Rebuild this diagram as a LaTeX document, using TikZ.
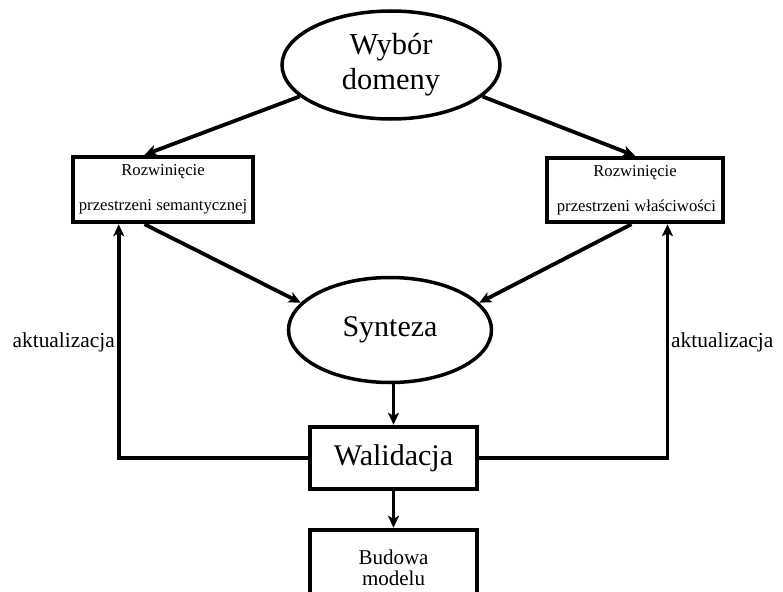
\documentclass[tikz,border=0pt]{standalone}
\usepackage{fontspec}
\setmainfont{Liberation Serif}
\usetikzlibrary{shapes.geometric,arrows.meta,calc}
\tikzset{
  ell/.style={ellipse, draw, line width=3.5pt, inner sep=0pt},
  boxa/.style={rectangle, draw, line width=4.5pt, inner sep=0pt, align=center},
  arr/.style={line width=3.8pt, -{Stealth[length=12pt,width=11pt,inset=3pt]}},
  lbl/.style={inner sep=0pt, font=\fontsize{21.4}{24}\selectfont},
}
\begin{document}
\begin{tikzpicture}[x=1pt,y=-1pt]
\useasboundingbox (0,0) rectangle (783,591);
\node[ell, minimum width=218pt, minimum height=108pt,
      font=\fontsize{30.5}{35}\selectfont, align=center] (wyb) at (391,65) {Wybór\\domeny};
\node[boxa, minimum width=180pt, minimum height=65pt,
      font=\fontsize{16.7}{35}\selectfont] (lb) at (163,189.5) {Rozwinięcie\\przestrzeni semantycznej};
\node[boxa, minimum width=176pt, minimum height=64pt,
      font=\fontsize{16.7}{35}\selectfont] (rb) at (635,190) {Rozwinięcie\\\,przestrzeni właściwości};
\node[ell, minimum width=203pt, minimum height=105pt,
      font=\fontsize{30}{35}\selectfont] (syn) at (390,330) {Synteza};
\node[boxa, minimum width=167pt, minimum height=62pt,
      font=\fontsize{30}{35}\selectfont] (wal) at (393.5,458) {Walidacja};
\node[boxa, minimum width=167pt, minimum height=76pt,
      font=\fontsize{21}{21}\selectfont] (bud) at (393.5,568) {Budowa\\modelu};
\node[lbl, anchor=base east] (la) at (115,347) {aktualizacja};
\node[lbl, anchor=base west] (ra) at (671,347) {aktualizacja};
\coordinate (lbt) at ($(lb.north west)!0.4!(lb.north east)$);
\coordinate (lbs) at ($(lb.south west)!0.4!(lb.south east)$);
\coordinate (lbf) at ($(lb.south west)!0.26!(lb.south east)$);
\coordinate (rbt) at ($(rb.north west)!0.5!(rb.north east)$);
\coordinate (rbs) at ($(rb.south west)!0.48!(rb.south east)$);
\coordinate (rbf) at ($(rb.south west)!0.68!(rb.south east)$);
\draw[arr] (wyb.199) -- (lbt);
\draw[arr] (wyb.-19) -- (rbt);
\draw[arr] (lbs) -- (syn.163);
\draw[arr] (rbs) -- (syn.17);
\draw[arr] (syn.south -| wal.north) -- (wal.north);
\draw[arr] (wal.south) -- (bud.north);
\draw[arr] (wal.west) -| (lbf);
\draw[arr] (wal.east) -| (rbf);
\end{tikzpicture}
\end{document}
